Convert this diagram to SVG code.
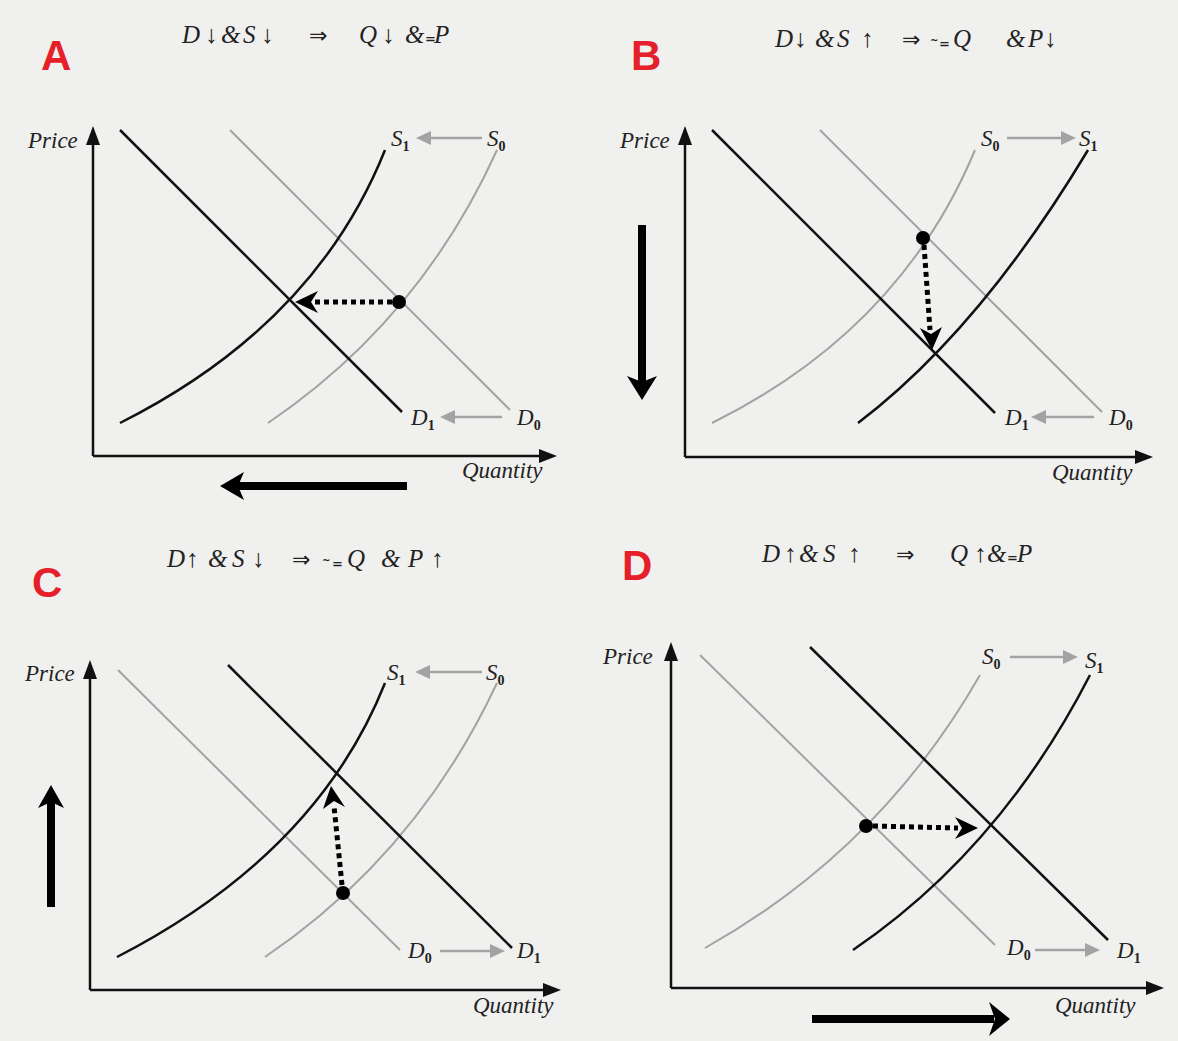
<svg xmlns="http://www.w3.org/2000/svg" width="1178" height="1041" viewBox="0 0 1178 1041">
<style>
.blk{stroke:#111;stroke-width:2.5;fill:none}
.gry{stroke:#a3a3a3;stroke-width:2;fill:none}
.ax{stroke:#111;stroke-width:2.5;fill:none}
.axh{fill:#111}
.gh{fill:#a3a3a3}
.gl{stroke:#a3a3a3;stroke-width:2.5}
.dot{fill:#000}
.dash{stroke:#000;stroke-width:5;stroke-dasharray:5 4;fill:none}
.thick{stroke:#000;stroke-width:8;fill:none}
.lbl{font-family:"Liberation Serif",serif;font-style:italic;font-size:23px;fill:#222}
.sub{font-style:normal;font-size:14px;font-weight:bold}
.ttl{font-family:"Liberation Serif","DejaVu Serif",serif;font-style:italic;font-size:25px;fill:#222}
.ar{font-style:normal;font-family:"Liberation Serif","DejaVu Sans",serif;font-size:25px}
.im{font-style:normal;font-family:"DejaVu Sans",sans-serif;font-size:22px}
.sm{font-style:normal;font-family:"DejaVu Sans",sans-serif;font-size:13px;font-weight:bold}
.tl{font-style:normal;font-family:"DejaVu Sans",sans-serif;font-size:10px;font-weight:bold}
.red{font-family:"Liberation Sans",sans-serif;font-weight:bold;font-size:42px;fill:#e5202a}
</style>
<rect width="1178" height="1041" fill="#f0f0ee"/>

<!-- Panel A -->
<g id="panel-A">
<text class="red" x="41" y="70">A</text>
<text class="ttl" y="43"><tspan x="182">D</tspan><tspan class="ar" x="205">↓</tspan><tspan x="221">&amp;</tspan><tspan x="243">S</tspan><tspan class="ar" x="261">↓</tspan><tspan class="im" x="309">⇒</tspan><tspan x="359">Q</tspan><tspan class="ar" x="382">↓</tspan><tspan x="405">&amp;</tspan><tspan class="sm" x="425">=</tspan><tspan x="434">P</tspan></text>
<g id="A-axes">
<path class="ax" d="M93,456 V140 M93,456 H542"/>
<polygon class="axh" points="93,126 86,145 100,145"/>
<polygon class="axh" points="557,456 539,449 539,463"/>
<text class="lbl" x="28" y="148">Price</text>
<text class="lbl" x="462" y="478">Quantity</text>
</g>
<g id="A-curves">
<line class="gry" x1="230" y1="130" x2="510" y2="410"/>
<path class="gry" d="M268,423 Q420,320 497,150"/>
<line class="blk" x1="120" y1="130" x2="402" y2="412"/>
<path class="blk" d="M120,423 Q315,325 385,150"/>
</g>
<g id="A-labels">
<text class="lbl" x="391" y="146">S<tspan class="sub" dy="5">1</tspan></text>
<text class="lbl" x="487" y="146">S<tspan class="sub" dy="5">0</tspan></text>
<line class="gl" x1="482" y1="138" x2="428" y2="138"/>
<polygon class="gh" points="416,138 431,131 431,145"/>
<text class="lbl" x="411" y="425">D<tspan class="sub" dy="5">1</tspan></text>
<text class="lbl" x="517" y="425">D<tspan class="sub" dy="5">0</tspan></text>
<line class="gl" x1="502" y1="417" x2="452" y2="417"/>
<polygon class="gh" points="440,417 455,410 455,424"/>
</g>
<g id="A-shift">
<circle class="dot" cx="399" cy="302" r="7"/>
<line class="dash" x1="392" y1="302" x2="312" y2="302"/>
<polygon class="dot" points="295,302 318,291 311,302 318,313"/>
<line class="thick" x1="407" y1="486" x2="238" y2="486"/>
<polygon class="dot" points="220,486 244,472 238,486 244,500"/>
</g>
</g>

<!-- Panel B -->
<g id="panel-B">
<text class="red" x="631" y="70">B</text>
<text class="ttl" y="47"><tspan x="775">D</tspan><tspan class="ar" x="794">↓</tspan><tspan x="815">&amp;</tspan><tspan x="837">S</tspan><tspan class="ar" x="861">↑</tspan><tspan class="im" x="902">⇒</tspan><tspan class="tl" x="930" dy="-3">~</tspan><tspan class="sm" x="939" dy="4">=</tspan><tspan x="953" dy="-1">Q</tspan><tspan x="1006">&amp;</tspan><tspan x="1028">P</tspan><tspan class="ar" x="1044">↓</tspan></text>
<g id="B-axes">
<path class="ax" d="M685,457 V140 M685,457 H1138"/>
<polygon class="axh" points="685,126 678,145 692,145"/>
<polygon class="axh" points="1153,457 1135,450 1135,464"/>
<text class="lbl" x="620" y="148">Price</text>
<text class="lbl" x="1052" y="480">Quantity</text>
</g>
<g id="B-curves">
<line class="gry" x1="820" y1="130" x2="1102" y2="412"/>
<path class="gry" d="M712,423 Q900,330 975,150"/>
<line class="blk" x1="712" y1="130" x2="995" y2="413"/>
<path class="blk" d="M858,423 Q980,330 1088,150"/>
</g>
<g id="B-labels">
<text class="lbl" x="981" y="146">S<tspan class="sub" dy="5">0</tspan></text>
<text class="lbl" x="1079" y="146">S<tspan class="sub" dy="5">1</tspan></text>
<line class="gl" x1="1007" y1="138" x2="1063" y2="138"/>
<polygon class="gh" points="1076,138 1061,131 1061,145"/>
<text class="lbl" x="1005" y="425">D<tspan class="sub" dy="5">1</tspan></text>
<text class="lbl" x="1109" y="425">D<tspan class="sub" dy="5">0</tspan></text>
<line class="gl" x1="1094" y1="417" x2="1044" y2="417"/>
<polygon class="gh" points="1031,417 1046,410 1046,424"/>
</g>
<g id="B-shift">
<circle class="dot" cx="923" cy="238" r="7"/>
<line class="dash" x1="924" y1="245" x2="930" y2="330"/>
<polygon class="dot" points="932,350 920,328 931,334 942,327"/>
<line class="thick" x1="642" y1="225" x2="642" y2="382"/>
<polygon class="dot" points="642,400 627,376 642,382 657,376"/>
</g>
</g>

<!-- Panel C -->
<g id="panel-C">
<text class="red" x="32" y="597">C</text>
<text class="ttl" y="567"><tspan x="167">D</tspan><tspan class="ar" x="186">↑</tspan><tspan x="208">&amp;</tspan><tspan x="232">S</tspan><tspan class="ar" x="252">↓</tspan><tspan class="im" x="292">⇒</tspan><tspan class="tl" x="322" dy="-3">~</tspan><tspan class="sm" x="332" dy="4">=</tspan><tspan x="347" dy="-1">Q</tspan><tspan x="381">&amp;</tspan><tspan x="408">P</tspan><tspan class="ar" x="431">↑</tspan></text>
<g id="C-axes">
<path class="ax" d="M90,990 V674 M90,990 H546"/>
<polygon class="axh" points="90,660 83,679 97,679"/>
<polygon class="axh" points="561,990 543,983 543,997"/>
<text class="lbl" x="25" y="681">Price</text>
<text class="lbl" x="473" y="1013">Quantity</text>
</g>
<g id="C-curves">
<line class="gry" x1="118" y1="670" x2="400" y2="950"/>
<path class="gry" d="M265,957 Q417,854 497,683"/>
<line class="blk" x1="228" y1="665" x2="512" y2="948"/>
<path class="blk" d="M117,957 Q317,854 385,683"/>
</g>
<g id="C-labels">
<text class="lbl" x="387" y="680">S<tspan class="sub" dy="5">1</tspan></text>
<text class="lbl" x="486" y="680">S<tspan class="sub" dy="5">0</tspan></text>
<line class="gl" x1="482" y1="672" x2="428" y2="672"/>
<polygon class="gh" points="415,672 430,665 430,679"/>
<text class="lbl" x="408" y="958">D<tspan class="sub" dy="5">0</tspan></text>
<text class="lbl" x="517" y="958">D<tspan class="sub" dy="5">1</tspan></text>
<line class="gl" x1="440" y1="951" x2="492" y2="951"/>
<polygon class="gh" points="505,951 490,944 490,958"/>
</g>
<g id="C-shift">
<circle class="dot" cx="343" cy="893" r="7"/>
<line class="dash" x1="342" y1="885" x2="334" y2="806"/>
<polygon class="dot" points="331,786 345,807 334,801 323,809"/>
<line class="thick" x1="51" y1="907" x2="51" y2="802"/>
<polygon class="dot" points="51,785 64,808 51,802 38,808"/>
</g>
</g>

<!-- Panel D -->
<g id="panel-D">
<text class="red" x="622" y="580">D</text>
<text class="ttl" y="562"><tspan x="762">D</tspan><tspan class="ar" x="784">↑</tspan><tspan x="799">&amp;</tspan><tspan x="823">S</tspan><tspan class="ar" x="848">↑</tspan><tspan class="im" x="896">⇒</tspan><tspan x="950">Q</tspan><tspan class="ar" x="974">↑</tspan><tspan x="987">&amp;</tspan><tspan class="sm" x="1007">=</tspan><tspan x="1017">P</tspan></text>
<g id="D-axes">
<path class="ax" d="M671,988 V657 M671,988 H1149"/>
<polygon class="axh" points="671,642 664,661 678,661"/>
<polygon class="axh" points="1164,988 1146,981 1146,995"/>
<text class="lbl" x="603" y="664">Price</text>
<text class="lbl" x="1055" y="1013">Quantity</text>
</g>
<g id="D-curves">
<line class="gry" x1="700" y1="655" x2="995" y2="945"/>
<path class="gry" d="M705,948 Q880,850 980,675"/>
<line class="blk" x1="810" y1="647" x2="1108" y2="940"/>
<path class="blk" d="M853,950 Q1000,850 1090,675"/>
</g>
<g id="D-labels">
<text class="lbl" x="982" y="664">S<tspan class="sub" dy="5">0</tspan></text>
<text class="lbl" x="1085" y="668">S<tspan class="sub" dy="5">1</tspan></text>
<line class="gl" x1="1010" y1="657" x2="1065" y2="657"/>
<polygon class="gh" points="1078,657 1063,650 1063,664"/>
<text class="lbl" x="1007" y="955">D<tspan class="sub" dy="5">0</tspan></text>
<text class="lbl" x="1117" y="958">D<tspan class="sub" dy="5">1</tspan></text>
<line class="gl" x1="1035" y1="950" x2="1087" y2="950"/>
<polygon class="gh" points="1100,950 1085,943 1085,957"/>
</g>
<g id="D-shift">
<circle class="dot" cx="866" cy="826" r="7"/>
<line class="dash" x1="873" y1="826" x2="958" y2="828"/>
<polygon class="dot" points="978,828 955,839 962,828 955,817"/>
<line class="thick" x1="812" y1="1019" x2="994" y2="1019"/>
<polygon class="dot" points="1010,1019 989,1002 995,1019 989,1036"/>
</g>
</g>
</svg>
